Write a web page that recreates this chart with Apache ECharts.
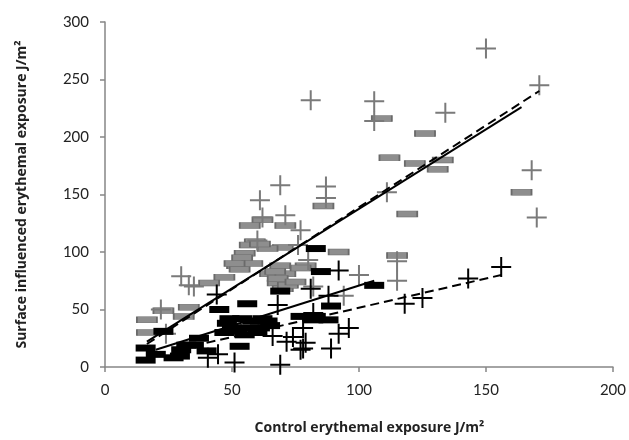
<!DOCTYPE html>
<html>
<head>
<meta charset="UTF-8">
<title>Erythemal exposure</title>
<script src="https://cdn.jsdelivr.net/npm/echarts@6/dist/echarts.min.js"></script>
<style>
  html, body { margin: 0; padding: 0; background: #fff; }
  #chart { width: 629px; height: 440px; }
</style>
</head>
<body>
<div id="chart"></div>
<script>
// values: [control, surface influenced] in J/m2
var grayPlus = [
  [150, 277], [171, 245], [168, 171], [170, 130], [81, 232], [106, 231], [106, 214],
  [134, 221], [87, 157], [87, 147], [111, 152], [69, 158], [61, 145], [71, 132],
  [62, 130], [77, 119], [60, 110], [76, 106], [30, 79], [33, 71], [35, 70],
  [22, 50], [24, 29], [115, 92], [115, 75], [100, 80], [94, 62], [82, 70], [80, 93]
];
var grayDash = [
  [109, 216], [126, 203], [112, 182], [122, 177], [133, 180], [131, 172], [164, 152],
  [86, 140], [119, 133], [92, 100], [115, 97], [62, 128], [57, 123], [71, 123],
  [59, 109], [57, 106], [70, 104], [55, 99], [54, 95], [52, 88], [53, 85], [64, 103],
  [61, 107], [58, 90], [65, 81], [68, 73], [70, 68], [71, 81], [47, 78], [16.5, 41],
  [16.5, 30], [23, 49], [31, 44], [33, 52], [41, 73], [51, 90], [69, 88], [67, 83],
  [68, 77], [72, 71], [75, 74], [79, 88], [77, 86]
];
var blackDash = [
  [16, 16.5], [16, 6], [20, 11], [23, 31], [27, 8], [30, 15], [32, 19], [37, 25],
  [40, 14], [45, 50], [49, 42], [50, 34], [52, 31], [53, 18], [56, 55], [58, 40],
  [61, 34], [62, 42], [65, 36], [69, 66], [77, 44], [83, 103], [85, 83], [106, 71],
  [89, 53], [82, 41], [88, 41], [29.5, 9.5], [35, 19], [57, 34], [54, 42], [83, 44],
  [48, 38], [55, 28], [60, 30], [47, 30], [64, 40]
];
var blackPlus = [
  [156, 87], [143, 77], [125, 60], [118, 55], [92, 84], [88, 62], [96, 34], [92, 29],
  [89, 16], [82, 47], [78, 34], [78, 16], [40.5, 8], [44.5, 11], [51, 4], [69, 2],
  [66, 27], [68, 54], [71.5, 22], [74, 26], [77, 15], [79, 21], [81, 68], [44, 63]
];
// trend line end points
var graySolid = [[16.5, 22], [164, 226]];
var grayDashed = [[16.5, 20], [171, 240]];
var blackSolid = [[20, 15], [106, 75]];
var blackDashed = [[40, 21], [156, 80]];

var plusPath = 'path://M0,9H20V11H0Z M9,0H11V20H9Z';
var font = 'Lato, "Liberation Sans", sans-serif';
var titleFont = '"Open Sans", Lato, sans-serif';

var chart = echarts.init(document.getElementById('chart'));

function trend(data, dashed) {
  return {
    type: 'line', data: data, symbol: 'none', z: 10, silent: true,
    lineStyle: { color: '#000', width: 2, type: dashed ? [9, 5] : 'solid' }
  };
}

chart.setOption({
  backgroundColor: '#fff',
  animation: false,
  grid: { left: 105, right: 15, top: 22, bottom: 71 },
  xAxis: {
    type: 'value', min: 0, max: 200, interval: 50,
    name: 'Control erythemal exposure J/m\u00b2',
    nameLocation: 'middle', nameGap: 54,
    nameTextStyle: { fontFamily: titleFont, fontWeight: 'bold', fontSize: 14, color: '#222', padding: [0, 0, 0, 21] },
    axisLine: { lineStyle: { color: '#868686', width: 1.5 } },
    axisTick: { show: true, length: 5, lineStyle: { color: '#868686', width: 1.5 } },
    axisLabel: { fontFamily: font, fontSize: 15, color: '#222', margin: 16 },
    splitLine: { show: false }
  },
  yAxis: {
    type: 'value', min: 0, max: 300, interval: 50,
    name: 'Surface influenced erythemal exposure J/m\u00b2',
    nameLocation: 'middle', nameGap: 76,
    nameTextStyle: { fontFamily: titleFont, fontWeight: 'bold', fontSize: 14, color: '#222' },
    axisLine: { show: true, lineStyle: { color: '#868686', width: 1.5 } },
    axisTick: { show: true, length: 5, lineStyle: { color: '#868686', width: 1.5 } },
    axisLabel: { fontFamily: font, fontSize: 15, color: '#222', margin: 16 },
    splitLine: { show: false }
  },
  series: [
    {
      type: 'scatter', data: grayDash, symbol: 'rect', symbolSize: [20, 6],
      itemStyle: { color: '#8e8e8e', borderColor: '#6a6a6a', borderWidth: 1, opacity: 1 }
    },
    {
      type: 'scatter', data: grayPlus, symbol: plusPath, symbolSize: 20,
      itemStyle: { color: '#7a7a7a', opacity: 1 }
    },
    {
      type: 'scatter', data: blackDash, symbol: 'rect', symbolSize: [20, 7],
      itemStyle: { color: '#000', opacity: 1 }
    },
    {
      type: 'scatter', data: blackPlus, symbol: plusPath, symbolSize: 20,
      itemStyle: { color: '#000', opacity: 1 }
    },
    trend(graySolid, false),
    trend(grayDashed, true),
    trend(blackSolid, false),
    trend(blackDashed, true)
  ]
});
</script>
</body>
</html>
